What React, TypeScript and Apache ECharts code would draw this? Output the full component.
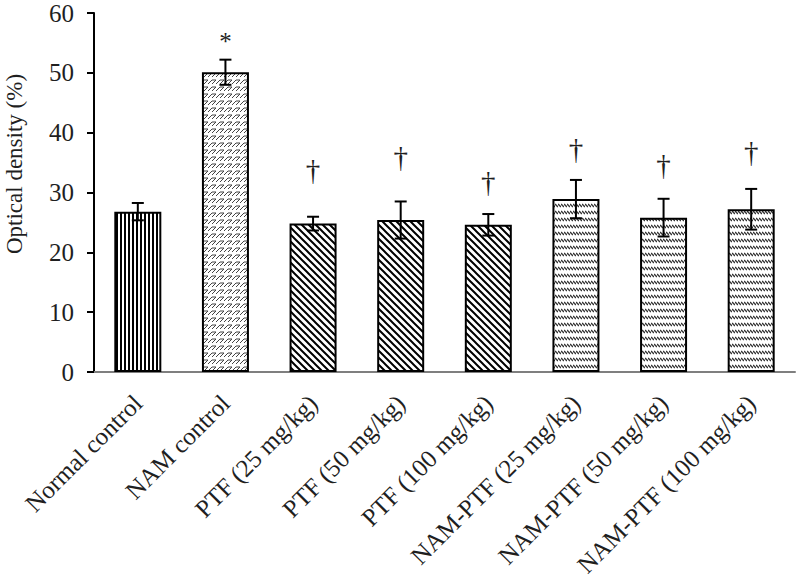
import React, { useEffect, useRef } from "react";
import * as echarts from "echarts";

const categories = [
  "Normal control",
  "NAM control",
  "PTF (25 mg/kg)",
  "PTF (50 mg/kg)",
  "PTF (100 mg/kg)",
  "NAM-PTF (25 mg/kg)",
  "NAM-PTF (50 mg/kg)",
  "NAM-PTF (100 mg/kg)",
];
const means = [26.8, 50.1, 24.8, 25.4, 24.6, 28.9, 25.8, 27.2];
const errors = [1.45, 2.1, 1.15, 3.1, 1.8, 3.2, 3.15, 3.4];
const markerText = ["", "*", "†", "†", "†", "†", "†", "†"];
const markerY = [null, 55.2, 33.8, 35.9, 31.8, 37.3, 34.6, 36.7];
const patternKind = ["vertical", "weave", "diag", "diag", "diag", "dash", "dash", "dash"];
const yTicks = { min: 0, max: 60, interval: 10 };
const yTitle = "Optical density (%)";

const FONT = "Liberation Serif";
const TEXT = "#1f1f1f";
const FS = 25;

function makePattern(w: number, h: number, draw: (ctx: CanvasRenderingContext2D) => void) {
  const c = document.createElement("canvas");
  c.width = w;
  c.height = h;
  const ctx = c.getContext("2d")!;
  ctx.fillStyle = "#ffffff";
  ctx.fillRect(0, 0, w, h);
  draw(ctx);
  return { image: c, repeat: "repeat", imageWidth: w, imageHeight: h } as any;
}

function buildPatterns() {
  return {
    vertical: makePattern(4, 4, (ctx) => {
      ctx.fillStyle = "#000";
      ctx.fillRect(0, 0, 2, 4);
    }),
    weave: makePattern(8, 7, (ctx) => {
      ctx.strokeStyle = "#444";
      ctx.lineWidth = 1;
      ctx.beginPath();
      ctx.moveTo(0, 7);
      ctx.lineTo(4, 3);
      ctx.lineTo(8, 3);
      ctx.moveTo(4, 7);
      ctx.lineTo(8, 3);
      ctx.moveTo(-4, 7);
      ctx.lineTo(0, 3);
      ctx.stroke();
    }),
    diag: makePattern(7, 7, (ctx) => {
      ctx.strokeStyle = "#000";
      ctx.lineWidth = 2;
      ctx.beginPath();
      for (const o of [-7, 0, 7]) {
        ctx.moveTo(o - 1, -1);
        ctx.lineTo(o + 8, 8);
      }
      ctx.stroke();
    }),
    dash: makePattern(3, 7, (ctx) => {
      ctx.strokeStyle = "#333";
      ctx.lineWidth = 1.4;
      ctx.beginPath();
      ctx.moveTo(0, 1);
      ctx.lineTo(3, 4);
      ctx.stroke();
    }),
  } as Record<string, any>;
}

export default function App() {
  const ref = useRef<HTMLDivElement>(null);
  useEffect(() => {
    if (!ref.current) return;
    const chart = echarts.init(ref.current, undefined, { renderer: "svg" });
    const patterns = buildPatterns();
    const barData = means.map((v, i) => ({
      value: v,
      itemStyle: { color: patterns[patternKind[i]], borderColor: "#000", borderWidth: 2 },
    }));
    const errData = means.map((v, i) => [i, v - errors[i], v + errors[i]]);
    const markData = markerY
      .map((y, i) => (y == null ? null : [i, y, i]))
      .filter((d) => d != null) as number[][];

    chart.setOption({
      animation: false,
      textStyle: { fontFamily: FONT },
      grid: { left: 94, right: 2, top: 13, bottom: 209 },
      xAxis: {
        type: "category",
        data: categories,
        axisLine: { lineStyle: { color: "#7f7f7f", width: 2 } },
        axisTick: { show: false },
        axisLabel: {
          interval: 0,
          rotate: 45,
          fontSize: FS,
          fontFamily: FONT,
          color: TEXT,
          margin: 27,
        },
      },
      yAxis: {
        type: "value",
        min: yTicks.min,
        max: yTicks.max,
        interval: yTicks.interval,
        axisLine: { show: true, lineStyle: { color: "#000", width: 2 } },
        axisTick: { show: true, length: 7, lineStyle: { color: "#000", width: 2 } },
        splitLine: { show: false },
        axisLabel: { fontSize: FS, fontFamily: FONT, color: TEXT, margin: 20 },
      },
      graphic: [
        {
          type: "text",
          x: 14,
          y: 164,
          rotation: Math.PI / 2,
          style: {
            text: yTitle,
            fontSize: 23,
            fontFamily: FONT,
            fill: TEXT,
            align: "center",
            verticalAlign: "middle",
          },
        },
      ],
      series: [
        {
          type: "bar",
          data: barData,
          barWidth: 47,
        },
        {
          type: "custom",
          data: errData,
          z: 5,
          renderItem: (params: any, api: any) => {
            const i = api.value(0);
            const lo = api.coord([i, api.value(1)]);
            const hi = api.coord([i, api.value(2)]);
            const cap = 6;
            const style = { stroke: "#000", lineWidth: 2 };
            return {
              type: "group",
              children: [
                { type: "line", shape: { x1: hi[0], y1: hi[1], x2: lo[0], y2: lo[1] }, style },
                { type: "line", shape: { x1: hi[0] - cap, y1: hi[1], x2: hi[0] + cap, y2: hi[1] }, style },
                { type: "line", shape: { x1: lo[0] - cap, y1: lo[1], x2: lo[0] + cap, y2: lo[1] }, style },
              ],
            };
          },
        },
        {
          type: "custom",
          data: markData,
          z: 6,
          renderItem: (params: any, api: any) => {
            const i = api.value(0);
            const p = api.coord([i, api.value(1)]);
            const t = markerText[i];
            return {
              type: "text",
              x: p[0],
              y: p[1],
              style: {
                text: t,
                fontSize: t === "*" ? FS : 29,
                fontFamily: FONT,
                fill: TEXT,
                align: "center",
                verticalAlign: "middle",
              },
            };
          },
        },
      ],
    });
    return () => chart.dispose();
  }, []);
  return (
    <div
      ref={ref}
      style={{ position: "fixed", left: 0, top: 0, width: 797, height: 581, background: "#fff" }}
    />
  );
}
